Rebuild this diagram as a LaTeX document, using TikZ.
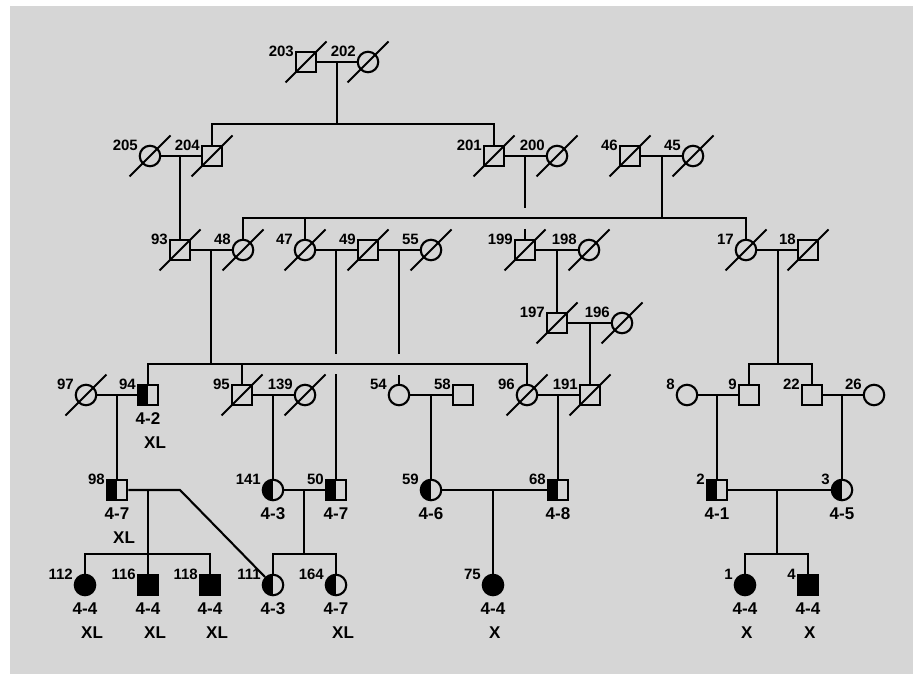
\documentclass[tikz,border=0pt]{standalone}
\usepackage{fontspec}
\setmainfont{Liberation Sans}
\definecolor{bggray}{RGB}{214,214,214}
\tikzset{
  lw/.style={line width=2.1pt},
  sym/.style={draw, lw, inner sep=0pt, minimum size=20.5pt},
  sq/.style={sym, rectangle},
  ci/.style={sym, circle},
  halfsq/.style={sq, path picture={\fill (path picture bounding box.north west) rectangle (path picture bounding box.south);}},
  halfci/.style={ci, path picture={\fill (path picture bounding box.north west) rectangle (path picture bounding box.south);}},
  fullsq/.style={sq, fill=black},
  fullci/.style={ci, fill=black},
  idl/.style={inner sep=0pt, anchor=east, font=\bfseries\fontsize{15}{18}\selectfont},
  gtl/.style={inner sep=0pt, anchor=center, font=\bfseries\fontsize{17}{20}\selectfont},
  xll/.style={inner sep=0pt, anchor=west, font=\bfseries\fontsize{17}{20}\selectfont},
  slash/.style={lw},
  con/.style={lw}
}
\newcommand{\pers}[4]{%
  \node[#2] (n#1) at (#3,#4) {};
  \node[idl] (l#1) at ([shift={(-12,-11)}]n#1.center) {#1};}
\newcommand{\deadmark}[1]{%
  \draw[slash] ([shift={(-20.5,20.5)}]n#1.center) -- ([shift={(20.5,-20.5)}]n#1.center);}
\newcommand{\geno}[2]{%
  \node[gtl] (g#1) at ([shift={(0,24)}]n#1.center) {#2};}
\newcommand{\xlab}[2]{%
  \node[xll] (x#1) at ([shift={(-4,48)}]n#1.center) {#2};}
\begin{document}
\begin{tikzpicture}[x=1pt, y=-1pt]
\useasboundingbox (0,0) rectangle (922,674);
\fill[bggray] (10,6) rectangle (913,674);
% generation 1
\pers{203}{sq}{306}{62}\deadmark{203}
\pers{202}{ci}{368}{62}\deadmark{202}
% generation 2
\pers{205}{ci}{150}{156}\deadmark{205}
\pers{204}{sq}{212}{156}\deadmark{204}
\pers{201}{sq}{494}{156}\deadmark{201}
\pers{200}{ci}{557}{156}\deadmark{200}
\pers{46}{sq}{630}{156}\deadmark{46}
\pers{45}{ci}{693}{156}\deadmark{45}
% generation 3
\pers{93}{sq}{180}{250}\deadmark{93}
\pers{48}{ci}{243}{250}\deadmark{48}
\pers{47}{ci}{305}{250}\deadmark{47}
\pers{49}{sq}{368}{250}\deadmark{49}
\pers{55}{ci}{431}{250}\deadmark{55}
\pers{199}{sq}{525}{250}\deadmark{199}
\pers{198}{ci}{589}{250}\deadmark{198}
\pers{17}{ci}{746}{250}\deadmark{17}
\pers{18}{sq}{808}{250}\deadmark{18}
\pers{197}{sq}{557}{323}\deadmark{197}
\pers{196}{ci}{622}{323}\deadmark{196}
% generation 4
\pers{97}{ci}{86}{395}\deadmark{97}
\pers{94}{halfsq}{148}{395}
\pers{95}{sq}{242}{395}\deadmark{95}
\pers{139}{ci}{305}{395}\deadmark{139}
\pers{54}{ci}{399}{395}
\pers{58}{sq}{463}{395}
\pers{96}{ci}{527}{395}\deadmark{96}
\pers{191}{sq}{590}{395}\deadmark{191}
\pers{8}{ci}{687}{395}
\pers{9}{sq}{749}{395}
\pers{22}{sq}{812}{395}
\pers{26}{ci}{874}{395}
% generation 5
\pers{98}{halfsq}{117}{490}
\pers{141}{halfci}{273}{490}
\pers{50}{halfsq}{336}{490}
\pers{59}{halfci}{431}{490}
\pers{68}{halfsq}{558}{490}
\pers{2}{halfsq}{717}{490}
\pers{3}{halfci}{842}{490}
% generation 6
\pers{112}{fullci}{85}{585}
\pers{116}{fullsq}{148}{585}
\pers{118}{fullsq}{210}{585}
\pers{111}{halfci}{273}{585}
\pers{164}{halfci}{336}{585}
\pers{75}{fullci}{493}{585}
\pers{1}{fullci}{745}{585}
\pers{4}{fullsq}{808}{585}
% genotype labels
\geno{94}{4-2}\xlab{94}{XL}
\geno{98}{4-7}\xlab{98}{XL}
\geno{141}{4-3}
\geno{50}{4-7}
\geno{59}{4-6}
\geno{68}{4-8}
\geno{2}{4-1}
\geno{3}{4-5}
\geno{112}{4-4}\xlab{112}{XL}
\geno{116}{4-4}\xlab{116}{XL}
\geno{118}{4-4}\xlab{118}{XL}
\geno{111}{4-3}
\geno{164}{4-7}\xlab{164}{XL}
\geno{75}{4-4}\xlab{75}{X}
\geno{1}{4-4}\xlab{1}{X}
\geno{4}{4-4}\xlab{4}{X}
% junction coordinates
\coordinate (u1) at (337,62);  \coordinate (s1) at (337,124);
\coordinate (u2) at (180,156);
\coordinate (u3) at (525,156); \coordinate (e3) at (525,208); \coordinate (t3) at (525,229);
\coordinate (u4) at (662,156); \coordinate (s4) at (662,218);
\coordinate (u5) at (211,250); \coordinate (s5) at (211,364);
\coordinate (u6) at (336,250); \coordinate (e6) at (336,354); \coordinate (t6) at (336,374);
\coordinate (u7) at (399,250); \coordinate (e7) at (399,354); \coordinate (t7) at (399,375);
\coordinate (u8) at (557,250);
\coordinate (u9) at (590,323);
\coordinate (u10) at (778,250); \coordinate (s10) at (778,364);
\coordinate (u11) at (117,395);
\coordinate (u12) at (273,395);
\coordinate (u13) at (431,395);
\coordinate (u14) at (558,395);
\coordinate (u15) at (717,395);
\coordinate (u16) at (842,395);
\coordinate (k98) at (180,490);
\coordinate (u17) at (148,490); \coordinate (s17) at (148,554);
\coordinate (u18) at (304,490); \coordinate (s18) at (304,554);
\coordinate (u19) at (493,490);
\coordinate (u20) at (777,490); \coordinate (s20) at (777,554);
% connectors
\draw[con] (n203) -- (n202);
\draw[con] (u1) -- (s1);
\draw[con] (n204.north) |- (s1) -| (n201.north);
\draw[con] (n205) -- (n204);
\draw[con] (u2) -- (n93.north);
\draw[con] (n201) -- (n200);
\draw[con] (u3) -- (e3);
\draw[con] (t3) -- (n199.north);
\draw[con] (n46) -- (n45);
\draw[con] (u4) -- (s4);
\draw[con] (n48.north) |- (s4) -| (n17.north);
\draw[con] (n47.north) -- (n47.north |- s4);
\draw[con] (n93) -- (n48);
\draw[con] (u5) -- (s5);
\draw[con] (n94.north) |- (s5) -| (n96.north);
\draw[con] (n95.north) -- (n95.north |- s5);
\draw[con] (n47) -- (n49);
\draw[con] (u6) -- (e6);
\draw[con] (t6) -- (n50.north);
\draw[con] (n49) -- (n55);
\draw[con] (u7) -- (e7);
\draw[con] (t7) -- (n54.north);
\draw[con] (n199) -- (n198);
\draw[con] (u8) -- (n197.north);
\draw[con] (n197) -- (n196);
\draw[con] (u9) -- (n191.north);
\draw[con] (n17) -- (n18);
\draw[con] (u10) -- (s10);
\draw[con] (n9.north) |- (s10) -| (n22.north);
\draw[con] (n97) -- (n94);
\draw[con] (u11) -- (n98.north);
\draw[con] (n95) -- (n139);
\draw[con] (u12) -- (n141.north);
\draw[con] (n54) -- (n58);
\draw[con] (u13) -- (n59.north);
\draw[con] (n96) -- (n191);
\draw[con] (u14) -- (n68.north);
\draw[con] (n8) -- (n9);
\draw[con] (u15) -- (n2.north);
\draw[con] (n22) -- (n26);
\draw[con] (u16) -- (n3.north);
\draw[con] (n98.east) -- (k98) -- (n111.north west);
\draw[con] (u17) -- (s17);
\draw[con] (n112.north) |- (s17) -| (n118.north);
\draw[con] (s17) -- (n116.north);
\draw[con] (n141) -- (n50);
\draw[con] (u18) -- (s18);
\draw[con] (n111.north) |- (s18) -| (n164.north);
\draw[con] (n59) -- (n68);
\draw[con] (u19) -- (n75.north);
\draw[con] (n2) -- (n3);
\draw[con] (u20) -- (s20);
\draw[con] (n1.north) |- (s20) -| (n4.north);
\end{tikzpicture}
\end{document}
